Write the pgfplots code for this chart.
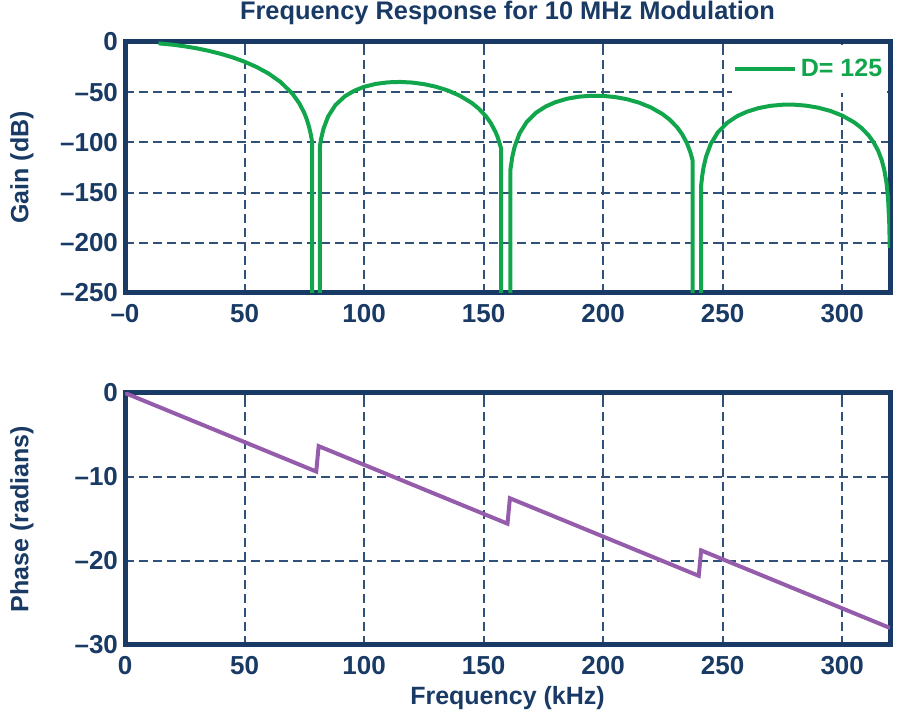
\documentclass[border=0pt]{standalone}
\usepackage{fontspec}
\setmainfont{Liberation Sans}
\usepackage{pgfplots}
\usepackage{pgfplotstable}
\pgfplotsset{compat=1.18}
\definecolor{navy}{RGB}{24,58,100}
\definecolor{gridnavy}{RGB}{48,82,122}
\definecolor{adgreen}{RGB}{18,166,76}
\definecolor{adpurple}{RGB}{150,92,172}

\pgfplotstableread{
x y
14 -1.33
20 -2.74
25 -4.33
30 -6.33
35 -8.79
40 -11.77
45 -15.34
50 -19.65
55 -24.88
60 -31.36
65 -39.73
70 -51.38
73 -61.42
75 -70.73
76 -76.83
77 -84.62
77.7 -91.76
78.3 -99.8
78.35 -1000
81.45 -1000
81.5 -104.1
82 -96.8
83 -86.58
85 -74.0
88 -62.91
92 -54.05
96 -48.43
100 -44.67
105 -41.72
110 -40.19
115 -39.79
120 -40.39
125 -41.96
130 -44.54
135 -48.27
140 -53.44
145 -60.64
148 -66.44
151 -74.03
153 -80.70
155 -89.65
156 -95.57
157.3 -105.97
157.35 -1000
161.15 -1000
161.2 -127.7
162 -114.5
163 -104.2
165 -91.28
168 -79.76
172 -70.35
176 -64.22
180 -59.99
185 -56.48
190 -54.43
195 -53.55
200 -53.71
205 -54.85
210 -57.04
215 -60.40
220 -65.22
225 -72.09
228 -77.70
231 -85.11
233 -91.67
235 -100.49
236.5 -109.87
237.4 -117.7
237.45 -1000
240.95 -1000
241.0 -142.9
241.5 -132.4
242 -125.0
243 -114.6
245 -101.6
248 -89.91
252 -80.30
256 -73.98
260 -69.57
265 -65.85
270 -63.59
275 -62.51
280 -62.47
285 -63.44
290 -65.45
295 -68.64
300 -73.30
305 -80.02
308 -85.53
311 -92.86
313 -99.36
315 -108.1
316.5 -117.5
317.5 -126.3
318.5 -139.6
319.2 -156.1
319.7 -181.7
319.9 -205
}\gaintable

\pgfplotstableread{
x y
0 0
80 -9.349
81 -6.325
160 -15.557
161 -12.532
240 -21.765
241 -18.740
320 -27.973
}\phasetable

\pgfplotsset{
  myax/.style={
    scale only axis, width=382.5pt,
    xmin=0, xmax=320,
    axis line style={draw=navy, line width=2.5pt},
    grid=major,
    grid style={draw=gridnavy, line width=1pt, dash pattern=on 4.5pt off 2.5pt},
    major tick length=4pt,
    tick align=inside,
    tick style={draw=gridnavy, line width=1pt},
    xtick={0,50,100,150,200,250,300},
    ticklabel style={font=\fontsize{13}{15}\selectfont\bfseries, text=navy},
    xticklabel style={yshift=-2pt},
    label style={font=\fontsize{12.5}{15}\selectfont\bfseries, text=navy},
    /pgf/number format/assume math mode=true,
  }
}

\begin{document}
\begin{tikzpicture}
\useasboundingbox (0,0) rectangle (450pt,358.5pt);

\node[anchor=base, font=\fontsize{12.7}{15}\selectfont\bfseries, text=navy] at (253.75pt,348.5pt) {Frequency Response for 10 MHz Modulation};

\begin{axis}[myax,
  at={(62.5pt,212pt)}, anchor=south west, height=125.5pt,
  ymin=-250, ymax=0,
  ytick={-250,-200,-150,-100,-50,0},
  yticklabels={–250,–200,–150,–100,–50,0},
  xticklabels={–0,50,100,150,200,250,300},
  ylabel={Gain (dB)},
  ylabel style={at={(axis description cs:-0.1346,0.5)}, anchor=center},
  legend style={at={(1,1)}, xshift=-1.2pt, yshift=-1.2pt, anchor=north east, draw=none, fill=white,
    text=adgreen, font=\fontsize{12.5}{14}\selectfont\bfseries, inner xsep=0.5pt, inner ysep=5pt},
  legend image code/.code={\draw[#1, line width=2pt] (0pt,0pt) -- (30pt,0pt);},
]
\addplot[adgreen, line width=2pt, line join=round] table[x=x, y=y] {\gaintable};
\addlegendentry{D= 125}
\end{axis}

\begin{axis}[myax,
  at={(62.5pt,36pt)}, anchor=south west, height=126pt,
  ymin=-30, ymax=0,
  ytick={-30,-20,-10,0},
  yticklabels={–30,–20,–10,0},
  xticklabels={0,50,100,150,200,250,300},
  xlabel={Frequency (kHz)},
  xlabel style={at={(axis description cs:0.5,-0.238)}, anchor=base},
  ylabel={Phase (radians)},
  ylabel style={at={(axis description cs:-0.1346,0.5)}, anchor=center},
]
\addplot[adpurple, line width=2pt] table[x=x, y=y] {\phasetable};
\end{axis}
\end{tikzpicture}
\end{document}
